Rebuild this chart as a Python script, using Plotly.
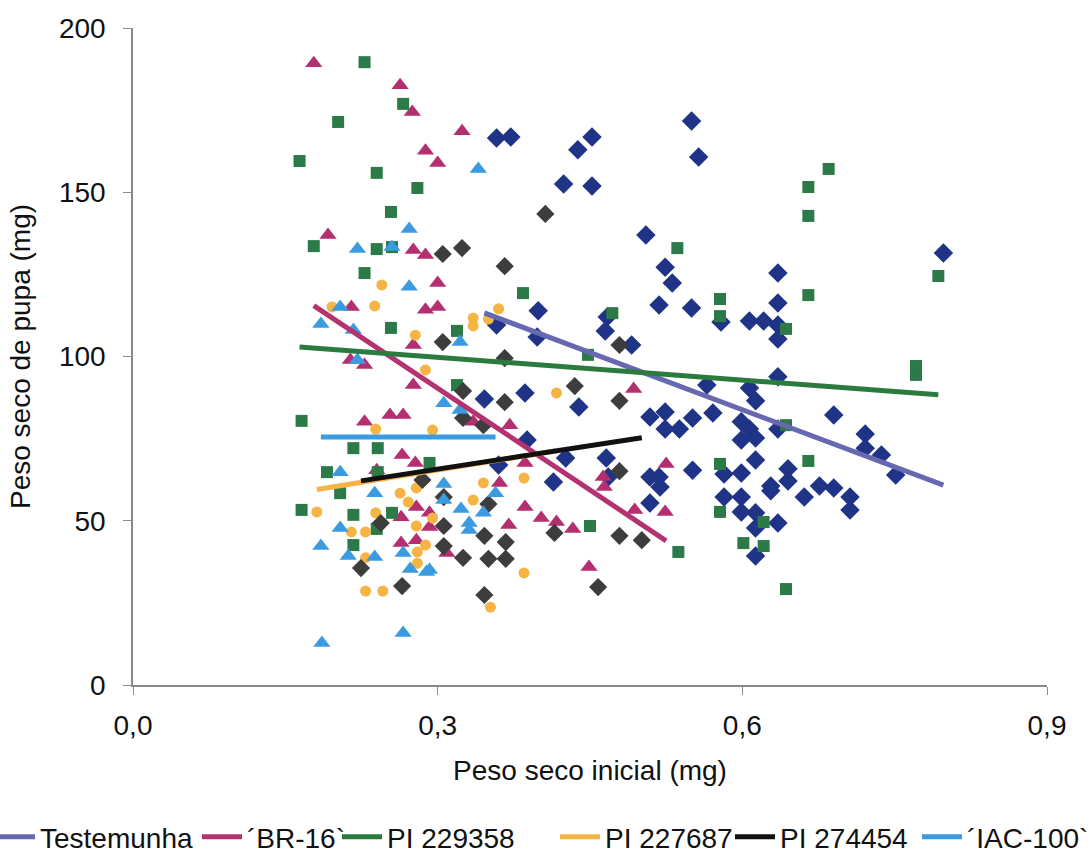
import plotly.graph_objects as go

# Peso seco inicial (mg) / Peso seco de pupa (mg) for each cultivar
testemunha_x = [0.550, 0.557, 0.358, 0.372, 0.452, 0.438, 0.424, 0.452, 0.505, 0.524,
                0.531, 0.518, 0.550, 0.579, 0.399, 0.358, 0.467, 0.465, 0.398, 0.491,
                0.798, 0.635, 0.635, 0.607, 0.621, 0.635, 0.635, 0.386, 0.346, 0.439,
                0.388, 0.360, 0.426, 0.466, 0.468, 0.414, 0.509, 0.509, 0.518, 0.519,
                0.509, 0.524, 0.524, 0.538, 0.551, 0.571, 0.599, 0.565, 0.551, 0.582,
                0.582, 0.599, 0.599, 0.607, 0.635, 0.613, 0.690, 0.607, 0.613, 0.635,
                0.721, 0.721, 0.737, 0.751, 0.613, 0.599, 0.645, 0.645, 0.628, 0.628,
                0.661, 0.676, 0.690, 0.706, 0.706, 0.599, 0.613, 0.613, 0.635, 0.613]
testemunha_y = [171.7, 160.7, 166.5, 166.8, 166.8, 162.9, 152.5, 151.9, 137.0, 127.2,
                122.4, 115.7, 114.8, 110.5, 113.9, 109.6, 112.0, 107.8, 105.9, 103.5,
                131.5, 125.4, 116.3, 110.8, 110.8, 109.6, 105.3, 88.9, 87.1, 84.6,
                74.6, 67.0, 69.1, 69.1, 63.3, 61.8, 55.4, 63.3, 63.3, 60.3,
                81.6, 83.1, 77.9, 77.9, 81.3, 82.8, 80.1, 91.3, 65.4, 64.2,
                57.2, 74.6, 52.7, 90.4, 93.8, 86.5, 82.2, 77.9, 75.2, 77.9,
                76.4, 72.1, 70.0, 63.9, 68.5, 64.5, 65.8, 62.1, 60.6, 59.1,
                57.2, 60.6, 60.0, 57.2, 53.3, 57.2, 52.4, 47.8, 49.3, 39.3]

br16_x = [0.178, 0.263, 0.275, 0.288, 0.192, 0.276, 0.288, 0.215, 0.288, 0.276,
          0.324, 0.300, 0.300, 0.300, 0.228, 0.253, 0.266, 0.265, 0.278, 0.240,
          0.264, 0.279, 0.264, 0.279, 0.493, 0.335, 0.371, 0.386, 0.463, 0.464,
          0.361, 0.386, 0.402, 0.417, 0.433, 0.370, 0.292, 0.292, 0.494, 0.524,
          0.309, 0.449, 0.525, 0.214, 0.228, 0.276]
br16_y = [189.3, 182.6, 174.4, 162.6, 137.0, 132.4, 130.9, 115.1, 114.2, 103.5,
          168.6, 158.9, 122.4, 115.1, 80.1, 82.2, 82.2, 70.0, 67.6, 65.4,
          51.1, 54.2, 43.2, 44.1, 90.1, 80.1, 79.1, 67.6, 63.3, 60.3,
          61.5, 54.2, 50.8, 49.6, 47.5, 48.7, 52.4, 48.1, 53.3, 52.7,
          40.2, 35.9, 67.3, 98.9, 97.4, 91.3]

pi229358_x = [0.228, 0.266, 0.202, 0.164, 0.240, 0.280, 0.254, 0.178, 0.240, 0.255,
              0.228, 0.254, 0.536, 0.578, 0.578, 0.384, 0.472, 0.319, 0.685, 0.665,
              0.665, 0.793, 0.665, 0.643, 0.166, 0.217, 0.241, 0.191, 0.241, 0.204,
              0.166, 0.217, 0.255, 0.240, 0.217, 0.448, 0.319, 0.292, 0.450, 0.537,
              0.578, 0.578, 0.771, 0.771, 0.643, 0.665, 0.621, 0.601, 0.621, 0.643]
pi229358_y = [189.6, 176.9, 171.4, 159.5, 155.9, 151.3, 144.0, 133.6, 132.7, 133.3,
              125.4, 108.7, 133.0, 117.5, 112.3, 119.3, 113.2, 107.8, 157.1, 151.6,
              142.8, 124.5, 118.7, 108.4, 80.4, 72.1, 72.1, 64.8, 64.8, 58.4,
              53.3, 51.8, 52.4, 47.5, 42.6, 100.5, 91.3, 67.6, 48.4, 40.5,
              67.3, 52.7, 97.1, 94.4, 79.1, 68.2, 49.6, 43.2, 42.3, 29.2]

pi227687_x = [0.245, 0.238, 0.196, 0.278, 0.360, 0.335, 0.335, 0.350, 0.239, 0.263,
              0.271, 0.279, 0.181, 0.239, 0.279, 0.215, 0.229, 0.280, 0.288, 0.229,
              0.280, 0.229, 0.246, 0.288, 0.417, 0.295, 0.385, 0.345, 0.335, 0.295,
              0.385, 0.352]
pi227687_y = [121.8, 115.4, 115.1, 106.5, 114.5, 111.7, 109.3, 111.4, 77.9, 58.4,
              55.7, 60.0, 52.7, 52.4, 48.4, 46.6, 46.6, 40.5, 42.6, 38.7,
              37.1, 28.6, 28.6, 95.9, 88.9, 77.6, 63.0, 61.5, 56.3, 50.8,
              34.1, 23.7]

pi274454_x = [0.406, 0.305, 0.324, 0.366, 0.305, 0.479, 0.285, 0.244, 0.2245, 0.265,
              0.435, 0.366, 0.325, 0.479, 0.325, 0.345, 0.306, 0.350, 0.306, 0.346,
              0.367, 0.415, 0.479, 0.501, 0.306, 0.325, 0.350, 0.367, 0.458, 0.346,
              0.479, 0.366]
pi274454_y = [143.4, 131.2, 133.0, 127.5, 104.4, 103.5, 62.4, 49.3, 35.6, 30.1,
              91.0, 86.1, 89.5, 86.5, 81.3, 79.1, 57.2, 55.1, 48.4, 45.4,
              43.5, 46.3, 45.4, 44.1, 42.3, 38.7, 38.4, 38.4, 29.8, 27.4,
              65.1, 99.5]

iac100_x = [0.272, 0.221, 0.255, 0.272, 0.204, 0.185, 0.217, 0.340, 0.322, 0.204,
            0.238, 0.204, 0.185, 0.212, 0.238, 0.266, 0.273, 0.289, 0.266, 0.186,
            0.221, 0.306, 0.322, 0.306, 0.306, 0.357, 0.323, 0.345, 0.331, 0.331,
            0.292]
iac100_y = [138.8, 132.7, 133.3, 121.2, 115.1, 109.9, 108.1, 157.1, 104.4, 64.8,
            58.4, 47.8, 42.3, 39.3, 39.0, 40.2, 35.3, 34.4, 15.8, 12.8,
            98.9, 85.8, 83.7, 61.2, 56.3, 58.4, 53.6, 52.4, 49.3, 47.2,
            35.0]

# Linear trend lines (y = slope * x + intercept), one per cultivar
series_names = ["Testemunha", "´BR-16`", "PI 229358", "PI 227687", "PI 274454", "´IAC-100`"]
trend_slope = [-116.0, -206.3, -23.1, 50.0, 47.4, 0.0]
trend_intercept = [153.4, 152.2, 106.7, 50.45, 51.5, 75.5]

xs = [testemunha_x, br16_x, pi229358_x, pi227687_x, pi274454_x, iac100_x]
ys = [testemunha_y, br16_y, pi229358_y, pi227687_y, pi274454_y, iac100_y]

marker_colors = ["#1f3486", "#b32f6f", "#2b7a47", "#f5b443", "#3d3d3d", "#3b9be0"]
marker_symbols = ["diamond", "triangle-up", "square", "circle", "diamond", "triangle-up"]
marker_sizes = [15, 15, 12, 11, 14, 15]
line_colors = ["#6668b0", "#b3326f", "#2b7a3e", "#f5b443", "#111111", "#3b9be0"]

# left edge (px) of each legend entry along the bottom row
legend_left_px = [-10, 197, 337, 555, 730, 917]

fig = go.Figure()

for name, x, y, c, s, sz in zip(series_names, xs, ys, marker_colors, marker_symbols, marker_sizes):
    fig.add_trace(go.Scatter(
        x=x, y=y, mode="markers", name=name, showlegend=False,
        marker=dict(color=c, symbol=s, size=sz, line=dict(width=0)),
    ))

legend_ids = ["legend"] + [f"legend{i}" for i in range(2, len(series_names) + 1)]
for name, x, m, b, c, lid in zip(series_names, xs, trend_slope, trend_intercept, line_colors, legend_ids):
    x0, x1 = min(x), max(x)
    fig.add_trace(go.Scatter(
        x=[x0, x1], y=[m * x0 + b, m * x1 + b], mode="lines", name=name,
        line=dict(color=c, width=5), legend=lid,
    ))

regular = "Liberation Sans, Arial, sans-serif"
margin_l, margin_r, margin_t, margin_b = 133, 42, 28, 169
plot_w = 1089 - margin_l - margin_r
plot_h = 854 - margin_t - margin_b
legend_mid_px = 837

legend_style = dict(
    orientation="h", xanchor="left", yanchor="middle",
    y=(854 - margin_b - legend_mid_px) / plot_h,
    font=dict(family=regular, size=28, color="#111111"),
    itemwidth=40, bgcolor="rgba(0,0,0,0)", borderwidth=0,
)
legends = {lid: dict(legend_style, x=(px - margin_l) / plot_w)
           for lid, px in zip(legend_ids, legend_left_px)}

fig.update_layout(
    width=1089, height=854,
    margin=dict(l=margin_l, r=margin_r, t=margin_t, b=margin_b, autoexpand=False),
    paper_bgcolor="white", plot_bgcolor="white",
    separators=",.",
    showlegend=True,
    xaxis=dict(
        range=[0, 0.9], tickvals=[0, 0.3, 0.6, 0.9], tickformat=".1f",
        showgrid=False, zeroline=False, showline=True, linecolor="#8a8a8a", linewidth=1.5,
        ticks="outside", ticklen=8, tickcolor="#8a8a8a", ticklabelstandoff=7,
        tickfont=dict(family=regular, size=28, color="#111111"),
        title=dict(text="Peso seco inicial (mg)", font=dict(family=regular, size=28, color="#111111"), standoff=20),
        automargin=False,
    ),
    yaxis=dict(
        range=[0, 200], tickvals=[0, 50, 100, 150, 200],
        showgrid=False, zeroline=False, showline=True, linecolor="#8a8a8a", linewidth=1.5,
        ticks="outside", ticklen=8, tickcolor="#8a8a8a", ticklabelstandoff=12,
        tickfont=dict(family=regular, size=28, color="#111111"),
        title=dict(text="Peso seco de pupa (mg)", font=dict(family=regular, size=28, color="#111111"), standoff=20),
        automargin=False,
    ),
    **legends,
)

fig.write_html("out.html")
